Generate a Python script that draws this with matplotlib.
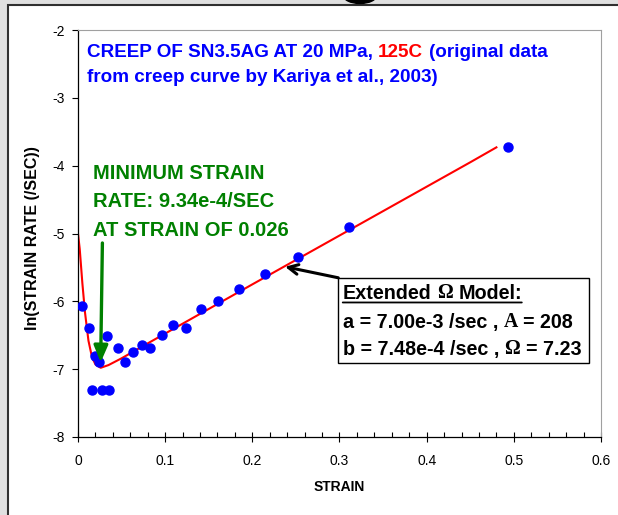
import numpy as np
import matplotlib
matplotlib.use("Agg")
import matplotlib.pyplot as plt
from matplotlib.patches import Rectangle, Ellipse

plt.rcParams['font.family'] = ['Liberation Sans', 'DejaVu Sans']
plt.rcParams['axes.unicode_minus'] = False

# measured creep data (strain, ln strain rate)
strain = [0.005, 0.013, 0.016, 0.020, 0.024, 0.027, 0.033, 0.035, 0.046, 0.054,
          0.063, 0.073, 0.083, 0.096, 0.109, 0.124, 0.141, 0.161, 0.185, 0.214,
          0.252, 0.311, 0.493]
ln_rate = [-6.07, -6.39, -7.31, -6.80, -6.90, -7.31, -6.51, -7.31, -6.69, -6.90,
           -6.74, -6.65, -6.69, -6.49, -6.35, -6.40, -6.12, -5.99, -5.82, -5.59,
           -5.34, -4.91, -3.72]

# model curve
curve_strain = [0, 0.002, 0.005, 0.008, 0.012, 0.016, 0.020, 0.026, 0.035, 0.05,
                0.08, 0.12, 0.16, 0.20, 0.25, 0.30, 0.35, 0.40, 0.45, 0.48]
curve_rate = [-5.0, -5.23, -5.73, -6.16, -6.58, -6.82, -6.93, -6.98, -6.94, -6.84,
              -6.62, -6.33, -6.04, -5.75, -5.39, -5.03, -4.67, -4.31, -3.95, -3.73]

xticks = [0, 0.1, 0.2, 0.3, 0.4, 0.5, 0.6]
xtick_labels = ['0', '0.1', '0.2', '0.3', '0.4', '0.5', '0.6']
yticks = [-8, -7, -6, -5, -4, -3, -2]
ytick_labels = ['-8', '-7', '-6', '-5', '-4', '-3', '-2']

fig = plt.figure(figsize=(6.18, 5.15), dpi=100, facecolor='#e0e0e0')
# white panel with dark frame
fig.add_artist(Rectangle((0.0129, -0.05), 1.1, 1.0403, transform=fig.transFigure,
                         fc='white', ec='#303030', lw=1.5, zorder=-1))
fig.add_artist(Ellipse((0.5825, 1.0097), 0.055, 0.033, transform=fig.transFigure,
                       color='black', zorder=-1))

ax = fig.add_axes([0.1262, 0.1515, 0.8463, 0.7902])
ax.set_facecolor('white')

ax.plot(curve_strain, curve_rate, color='red', lw=1.5, zorder=2)
ax.plot(strain, ln_rate, 'o', color='blue', ms=6.5, zorder=3)

ax.set_xlim(0, 0.6)
ax.set_ylim(-8, -2)
ax.set_xticks(xticks)
ax.set_xticklabels(xtick_labels)
ax.set_xticks(np.arange(0, 0.601, 0.02), minor=True)
ax.set_yticks(yticks)
ax.set_yticklabels(ytick_labels)
ax.tick_params(axis='x', which='major', direction='inout', length=7, width=0.8,
               labelsize=10, pad=8.5)
ax.tick_params(axis='x', which='minor', direction='in', length=3.5, width=0.8)
ax.tick_params(axis='y', which='major', direction='out', length=4, width=0.8,
               labelsize=10, pad=5.5)
for s in ['top', 'right']:
    ax.spines[s].set_color('#a0a0a0')
for s in ['left', 'bottom']:
    ax.spines[s].set_linewidth(0.9)

ax.set_xlabel('STRAIN', fontsize=10, fontweight='bold')
ax.set_ylabel('ln(STRAIN RATE (/SEC))', fontsize=11.5, fontweight='bold')
ax.xaxis.set_label_coords(0.5, -0.106)
ax.yaxis.set_label_coords(-0.072, 0.49)


def rich(x, y, parts, size):
    # parts: (text, color, family, gap before in em)
    t = None
    for s, color, fam, gap in parts:
        if t is None:
            t = ax.text(x, y, s, color=color, family=fam, fontsize=size,
                        fontweight='bold', va='baseline', zorder=5)
            first = t
        else:
            t = ax.annotate(s, xy=(1, 0), xycoords=t, xytext=(gap * size, 0),
                            textcoords='offset points', color=color, family=fam,
                            fontsize=size, fontweight='bold', va='bottom',
                            ha='left', zorder=5)
    return first, t


sans = ['Liberation Sans', 'DejaVu Sans']
serif = ['Liberation Serif', 'DejaVu Serif']

rich(0.0103, -2.403, [('CREEP OF SN3.5AG AT 20 MPa,', 'blue', sans, 0),
                      ('125C', 'red', sans, 0.278),
                      ('(original data', 'blue', sans, 0.278)], 13.6)
rich(0.0103, -2.764, [('from creep curve by Kariya et al., 2003)', 'blue', sans, 0)], 13.6)

green = '#008000'
for txt, yb in [('MINIMUM STRAIN', -4.202), ('RATE: 9.34e-4/SEC', -4.615),
                ('AT STRAIN OF 0.026', -5.038)]:
    ax.text(0.0172, yb, txt, color=green, fontsize=14.5, fontweight='bold',
            va='baseline', zorder=5)

ax.annotate('', xy=(0.026, -6.9), xytext=(0.028, -5.14),
            arrowprops=dict(arrowstyle='-|>,head_length=1.0,head_width=0.42',
                            lw=2.4, color=green, shrinkA=0, shrinkB=0), zorder=6)

# model box
ax.add_patch(Rectangle((0.2986, -6.907), 0.2876, 1.254, fc='white', ec='black',
                       lw=1, zorder=4))
ax.annotate('', xy=(0.2375, -5.49), xytext=(0.2986, -5.653),
            arrowprops=dict(arrowstyle='->,head_length=0.7,head_width=0.35',
                            lw=2.2, color='black', shrinkA=0, shrinkB=0), zorder=6)

f, l = rich(0.3037, -5.972, [('Extended', 'black', sans, 0),
                             ('\u03a9', 'black', serif, 0.278),
                             ('Model:', 'black', sans, 0.278)], 14.2)
ax.annotate('', xy=(0, 0.05), xycoords=f, xytext=(1, 0.05), textcoords=l,
            arrowprops=dict(arrowstyle='-', lw=1.3, color='black',
                            shrinkA=0, shrinkB=0), zorder=6)
rich(0.3037, -6.391, [('a = 7.00e-3 /sec ,', 'black', sans, 0),
                      ('A', 'black', serif, 0.278),
                      ('= 208', 'black', sans, 0.278)], 14.2)
rich(0.3037, -6.794, [('b = 7.48e-4 /sec ,', 'black', sans, 0),
                      ('\u03a9', 'black', serif, 0.278),
                      ('= 7.23', 'black', sans, 0.278)], 14.2)

fig.savefig('out.png', dpi=100, facecolor=fig.get_facecolor())
